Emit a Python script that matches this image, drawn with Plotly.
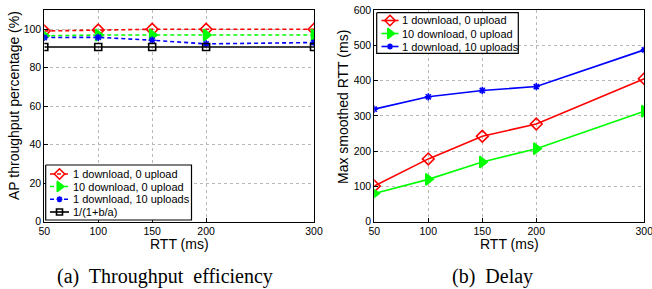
import plotly.graph_objects as go

rtt = [50, 100, 150, 200, 300]

# (a) Throughput efficiency (%)
eff_1d0u = [99.1, 99.6, 100, 100, 100]
eff_10d0u = [96.6, 97.0, 97.0, 97.0, 97.0]
eff_1d10u = [95.7, 95.8, 94.3, 92.4, 93.1]
eff_model = [90.8, 90.8, 90.8, 90.8, 90.8]

# (b) Delay (ms)
delay_1d0u = [101, 178, 242, 277, 405]
delay_10d0u = [80, 120, 169, 207, 313]
delay_1d10u = [319, 354, 372, 383, 487]

names = ["1 download, 0 upload", "10 download, 0 upload", "1 download, 10 uploads", "1/(1+b/a)"]
x_ticks = [50, 100, 150, 200, 300]
y1_ticks = [0, 20, 40, 60, 80, 100]
y2_ticks = [0, 100, 200, 300, 400, 500, 600]

# ---- styles ----
colors = ["#ff0000", "#00ff00", "#0000ff", "#000000"]
symbols = ["diamond-open", "triangle-right", "asterisk-open", "square-open"]
msizes = [9, 10, 6, 7]
DASH = "4px,3px"
W, H = 652, 289


def px(x):
    return x / W


def py(y):
    return 1 - y / H


fig = go.Figure()

left = [eff_1d0u, eff_10d0u, eff_1d10u, eff_model]
for i, ys in enumerate(left):
    fig.add_trace(go.Scatter(
        x=rtt, y=ys, name=names[i], mode="lines+markers", showlegend=False,
        line=dict(color=colors[i], width=1.6, dash="solid" if i == 3 else DASH),
        marker=dict(symbol=symbols[i], size=msizes[i], color=colors[i],
                    line=dict(width=1.6, color=colors[i])),
        xaxis="x", yaxis="y"))

right = [delay_1d0u, delay_10d0u, delay_1d10u]
for i, ys in enumerate(right):
    fig.add_trace(go.Scatter(
        x=rtt, y=ys, name=names[i], mode="lines+markers", showlegend=False,
        line=dict(color=colors[i], width=1.6),
        marker=dict(symbol=symbols[i], size=msizes[i], color=colors[i],
                    line=dict(width=1.6, color=colors[i])),
        xaxis="x2", yaxis="y2"))

# ---- compact MATLAB-style legends drawn on a pixel overlay axis ----
legend_specs = [
    dict(box=(45.7, 191.5, 165, 220), ys=[174, 186.5, 199.3, 212], lx=(50, 69), tx=70.5, n=4, dashed=True),
    dict(box=(376.7, 518.3, 12.7, 53.3), ys=[20.5, 33.5, 46.5], lx=(381.5, 398.5), tx=400, n=3, dashed=False),
]
annotations = []
for spec in legend_specs:
    x0, x1, y0, y1 = spec["box"]
    fig.add_trace(go.Scatter(
        x=[x0, x1, x1, x0, x0], y=[y0, y0, y1, y1, y0], mode="lines", fill="toself",
        fillcolor="white", line=dict(color="black", width=1.2), showlegend=False,
        hoverinfo="skip", xaxis="x3", yaxis="y3"))
    for i in range(spec["n"]):
        yy = spec["ys"][i]
        dashed = spec["dashed"] and i < 3
        fig.add_trace(go.Scatter(
            x=[spec["lx"][0], spec["lx"][1]], y=[yy, yy], mode="lines", showlegend=False,
            line=dict(color=colors[i], width=1.6, dash=DASH if dashed else "solid"),
            hoverinfo="skip", xaxis="x3", yaxis="y3"))
        fig.add_trace(go.Scatter(
            x=[(spec["lx"][0] + spec["lx"][1]) / 2], y=[yy], mode="markers", showlegend=False,
            marker=dict(symbol=symbols[i], size=msizes[i] - 1, color=colors[i],
                        line=dict(width=1.6, color=colors[i])),
            hoverinfo="skip", xaxis="x3", yaxis="y3"))
        annotations.append(dict(
            text=names[i], x=px(spec["tx"]), y=py(yy), xref="paper", yref="paper",
            xanchor="left", yanchor="middle", showarrow=False,
            font=dict(family="Liberation Sans", size=11, color="black")))

axis_common = dict(
    showline=True, linecolor="black", linewidth=1, mirror=True,
    ticks="inside", ticklen=4, tickcolor="black",
    showgrid=True, gridcolor="#b8b8b8", griddash="dot", gridwidth=1,
    zeroline=False, automargin=False, ticklabeloverflow="allow",
    tickfont=dict(family="Liberation Sans", size=10.5, color="black"),
)
title_font = dict(family="Liberation Sans", size=14, color="black")
cap_font = dict(family="Liberation Serif", size=20, color="black")
ctr = dict(xref="paper", yref="paper", xanchor="center", yanchor="middle", showarrow=False)

annotations += [
    dict(text="RTT (ms)", x=px(179), y=py(244), font=title_font, **ctr),
    dict(text="RTT (ms)", x=px(509), y=py(244), font=title_font, **ctr),
    dict(text="AP throughput percentage (%)", x=px(14), y=py(106), textangle=-90, font=title_font, **ctr),
    dict(text="Max smoothed RTT (ms)", x=px(343), y=py(107), textangle=-90, font=title_font, **ctr),
    dict(text="(a)  Throughput  efficiency", x=px(165), y=py(276), font=cap_font, **ctr),
    dict(text="(b)  Delay", x=px(492), y=py(276), font=cap_font, **ctr),
]

fig.update_layout(
    width=W, height=H,
    margin=dict(l=0, r=0, t=0, b=0),
    paper_bgcolor="white", plot_bgcolor="rgba(0,0,0,0)",
    showlegend=False,
    xaxis=dict(domain=[px(44.3), px(314)], range=[50, 300], tickvals=x_ticks, anchor="y", **axis_common),
    yaxis=dict(domain=[py(221.7), py(10)], range=[0, 110], tickvals=y1_ticks, anchor="x", **axis_common),
    xaxis2=dict(domain=[px(374.3), px(644.3)], range=[50, 300], tickvals=x_ticks, anchor="y2", **axis_common),
    yaxis2=dict(domain=[py(221.7), py(10)], range=[0, 600], tickvals=y2_ticks, anchor="x2", **axis_common),
    xaxis3=dict(domain=[0, 1], range=[0, W], visible=False, anchor="y3", fixedrange=True),
    yaxis3=dict(domain=[0, 1], range=[H, 0], visible=False, anchor="x3", fixedrange=True),
    annotations=annotations,
)

fig.write_html("out.html", config={"displayModeBar": False},
               post_script="document.body.style.margin='0';")
